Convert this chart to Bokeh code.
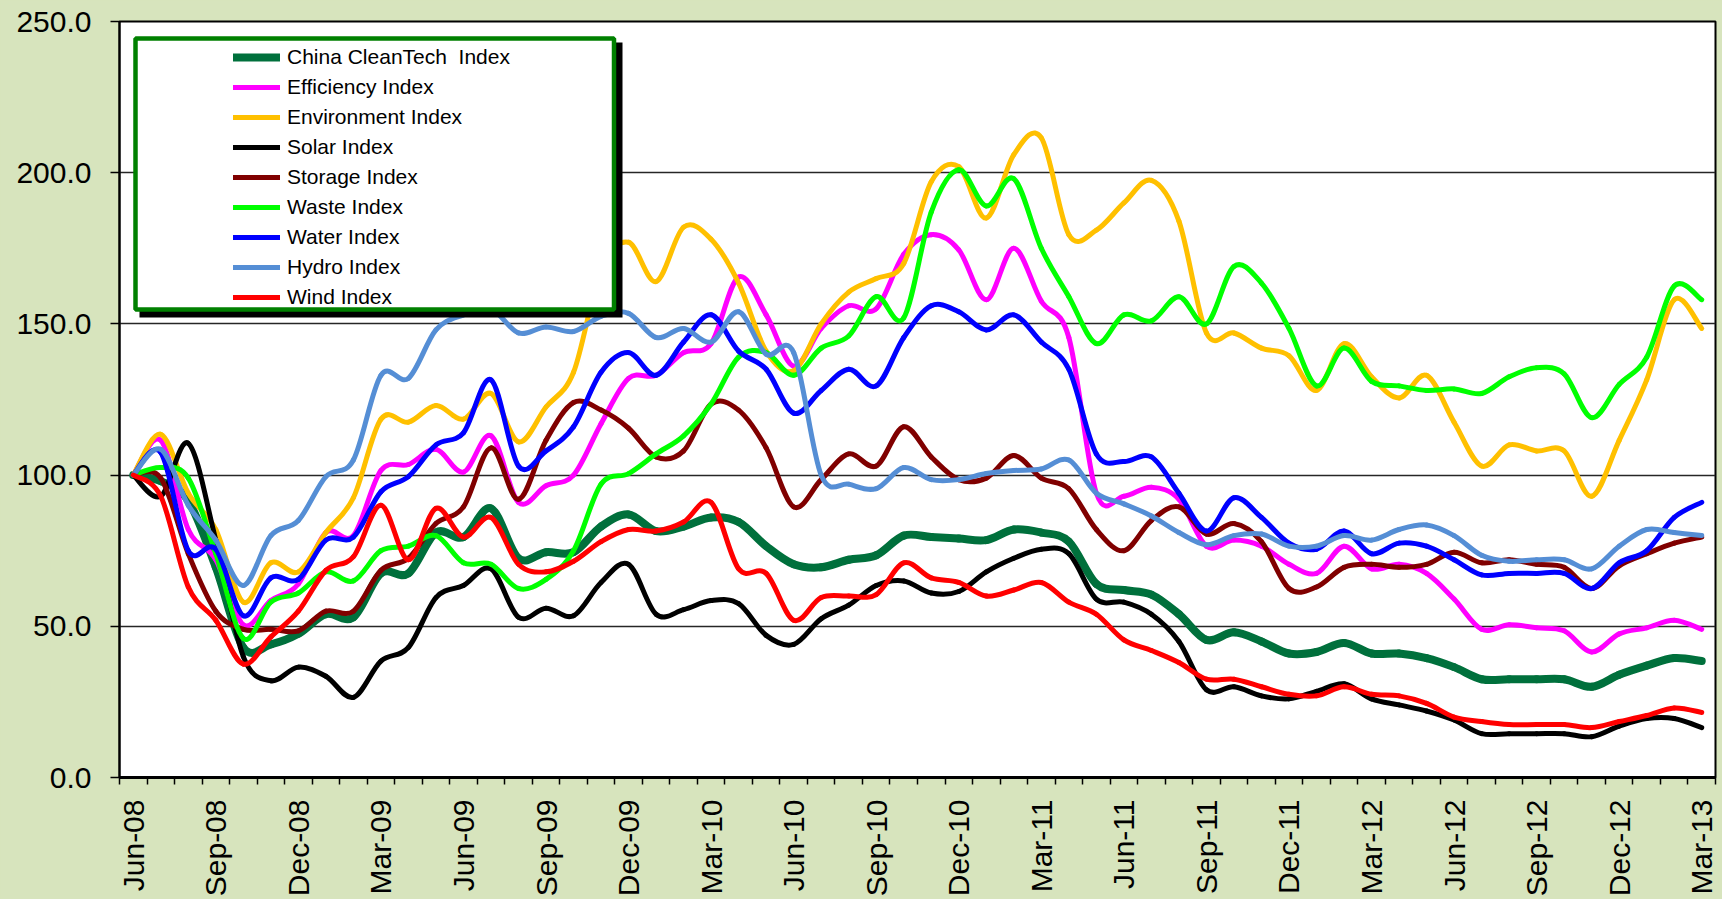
import math
import numpy as np
from bokeh.plotting import figure
from bokeh.models import (Range1d, FixedTicker, PrintfTickFormatter, CustomJSTickFormatter,
                          Legend, LegendItem, BoxAnnotation, ColumnDataSource)
from bokeh.embed import file_html
from bokeh.resources import INLINE

try:
    from bokeh.models import GlobalInlineStyleSheet
except Exception:
    GlobalInlineStyleSheet = None

# ---------------- data ----------------
months = ["Jun-08", "Jul-08", "Aug-08", "Sep-08", "Oct-08", "Nov-08", "Dec-08",
          "Jan-09", "Feb-09", "Mar-09", "Apr-09", "May-09", "Jun-09", "Jul-09", "Aug-09",
          "Sep-09", "Oct-09", "Nov-09", "Dec-09",
          "Jan-10", "Feb-10", "Mar-10", "Apr-10", "May-10", "Jun-10", "Jul-10", "Aug-10",
          "Sep-10", "Oct-10", "Nov-10", "Dec-10",
          "Jan-11", "Feb-11", "Mar-11", "Apr-11", "May-11", "Jun-11", "Jul-11", "Aug-11",
          "Sep-11", "Oct-11", "Nov-11", "Dec-11",
          "Jan-12", "Feb-12", "Mar-12", "Apr-12", "May-12", "Jun-12", "Jul-12", "Aug-12",
          "Sep-12", "Oct-12", "Nov-12", "Dec-12",
          "Jan-13", "Feb-13", "Mar-13"]

series_names = ["China CleanTech  Index", "Efficiency Index", "Environment Index",
                "Solar Index", "Storage Index", "Waste Index", "Water Index",
                "Hydro Index", "Wind Index"]

clean_tech = [100, 98, 91.5, 69.5, 43, 44, 47.5, 54, 53, 67.5, 67.5, 81, 79.5, 89, 72.5,
              74.5, 74.5, 83, 87, 81.5, 83, 86, 84.5, 76.5, 70.5, 69.5, 72, 73.5, 80, 79.5,
              79, 78.5, 82, 81, 78, 64, 62, 60.5, 54, 45.5, 48, 45, 41, 41.5, 44.5, 41, 41,
              39.5, 36.5, 32.5, 32.5, 32.5, 32.5, 30, 34, 37, 39.5, 38.5]
efficiency = [100, 111.5, 82, 72, 50.5, 58.5, 64, 81, 80, 101.5, 103.5, 108.5, 101, 113, 91,
              96.5, 100, 117, 132, 133, 140.5, 143.5, 165.5, 153, 136, 148.5, 156, 155, 173,
              179.5, 174.5, 158, 175, 157.5, 145.5, 94, 93, 96, 92, 76.5, 78.5, 76.5, 70.5,
              67.5, 76.5, 69, 70.5, 67.5, 59, 49, 50.5, 49.5, 48.5, 41.5, 47.5, 49.5, 52, 49]
environment = [100, 113.5, 94, 82, 58, 71, 68, 81, 92.5, 118.5, 117.5, 123, 118.5, 127, 111,
               122.5, 134, 168, 177, 164, 182, 178, 163.5, 141, 134.5, 150, 160.5, 165, 170,
               197, 202, 185, 206, 211.5, 179.5, 181, 190, 197.5, 184, 147, 147, 142, 139.5,
               128, 143.5, 132.5, 125.5, 133, 117.5, 103, 110, 108, 108, 93, 111.5, 131.5,
               158, 148.5]
solar = [100, 93, 110.5, 78.5, 40, 32, 36.5, 33.5, 26.5, 38.5, 43, 59.5, 63.5, 69, 53, 56,
         53.5, 64.5, 70.5, 54, 55.5, 58.5, 57.5, 47, 44, 52.5, 57, 63.5, 65, 61, 61.5, 68,
         72.5, 75.5, 74, 59, 58, 54, 45, 29, 30, 27, 26, 28.5, 31, 26, 24, 22, 19, 14.5,
         14.5, 14.5, 14.5, 13.5, 17, 19.5, 19.5, 16.5]
storage = [100, 99, 74, 55, 49, 49, 48.5, 55, 55, 68.5, 72.5, 84, 89.5, 109, 92, 111.5, 124,
           121.5, 115.5, 106, 108, 123.5, 121.5, 109, 89.5, 98.5, 107, 103, 116, 106, 98.5,
           99, 106.5, 99, 95.5, 82, 75, 85, 89.5, 80.5, 84, 78, 62.5, 63, 69.5, 70.5, 69.5,
           70.5, 74.5, 71, 72, 70.5, 69.5, 62.5, 70, 74, 77.5, 79.5]
waste = [100, 102.5, 99, 74, 46, 58, 61, 68, 65, 75, 76.5, 80, 71, 70.5, 62.5, 65.5, 75, 97,
         100.5, 107, 113, 123.5, 139, 140.5, 133, 142, 146, 159, 152, 187, 201, 189, 198,
         175, 159, 143.5, 153, 151, 159, 150, 169, 163.5, 148.5, 129.5, 142, 131, 129.5, 128,
         128.5, 127, 132.5, 135.5, 133.5, 119, 130, 139, 162.5, 158]
water = [100, 107.5, 75, 75.5, 53.5, 66, 65.5, 78.5, 79.5, 94.5, 99.5, 110, 114, 131.5, 103,
         108, 116, 134, 140.5, 133, 144, 153, 141, 135, 120.5, 128, 135, 129.5, 145.5, 156,
         154, 148, 153, 144, 135, 107, 104.5, 106, 94, 81.5, 92.5, 86, 77.5, 75.5, 81.5, 74,
         77.5, 76.5, 72, 67, 67.5, 67.5, 67.5, 62.5, 71, 75, 86, 91]
hydro = [100, 108.5, 90, 78.5, 63.5, 80, 85, 99.5, 105, 133, 132, 148, 153, 155, 147, 149,
         147.5, 152.5, 153.5, 145.5, 148.5, 144, 154, 140, 140.5, 100, 97, 95.5, 102.5, 98.5,
         98.5, 100.5, 101.5, 102, 105, 94, 90.5, 86.5, 81, 77, 80, 80.5, 76.5, 76.5, 80,
         78.5, 82, 83.5, 80, 73.5, 71.5, 72, 72, 69, 76.5, 82, 81, 80]
wind = [100, 93, 63, 52, 37.5, 46.5, 55, 68.5, 73, 90, 72, 89, 79.5, 86, 70.5, 68, 71.5, 78,
        82, 81.5, 84.5, 91, 69, 67.5, 52, 59.5, 60, 60.5, 71, 66, 64.5, 60, 62, 64.5, 58,
        54, 45.5, 42, 38, 32.5, 32.5, 30, 27.5, 27, 30, 27.5, 27, 24.5, 20, 18.5, 17.5,
        17.5, 17.5, 16.5, 18.5, 20.5, 23, 21.5]

y_ticks = [0, 50, 100, 150, 200, 250]

# ---------------- styles ----------------
all_series = [clean_tech, efficiency, environment, solar, storage, waste, water, hydro, wind]
colors = ["#00703C", "#FF00FF", "#FFC000", "#000000", "#800000", "#00FF00", "#0000FF",
          "#558ED5", "#FF0000"]
widths = [8, 5, 5, 5, 5, 5, 5, 5, 5]
BG = "#D7E4BD"
FONT = "Liberation Sans"

W, H = 1722, 899
ML, MR, MT, MB = 119, 7, 21, 122
FW, FH = W - ML - MR, H - MT - MB

p = figure(width=W, height=H, output_backend="svg", toolbar_location=None,
           x_range=Range1d(-0.5, len(months) - 0.5), y_range=Range1d(0, 250),
           min_border_left=ML, min_border_right=MR, min_border_top=MT, min_border_bottom=MB)
p.border_fill_color = BG
p.background_fill_color = "white"
p.outline_line_color = "black"
p.outline_line_width = 2

if GlobalInlineStyleSheet is not None:
    p.stylesheets = [GlobalInlineStyleSheet(css="html, body { background-color: %s; }" % BG)]

# grid
p.xgrid.visible = False
p.ygrid.grid_line_color = "#262626"
p.ygrid.grid_line_width = 1.5
p.ygrid.ticker = FixedTicker(ticks=y_ticks)

# y axis
ya = p.yaxis[0]
ya.ticker = FixedTicker(ticks=y_ticks, minor_ticks=[])
ya.formatter = PrintfTickFormatter(format="%.1f")
ya.major_label_text_font = FONT
ya.major_label_text_font_size = "30px"
ya.major_label_text_color = "black"
ya.major_tick_out = 9
ya.major_tick_in = 0
ya.major_tick_line_width = 1.5
ya.major_tick_line_color = "black"
ya.minor_tick_line_color = None
ya.axis_line_width = 2
ya.axis_line_color = "black"
ya.major_label_standoff = 19

# x axis
xa = p.xaxis[0]
xa.ticker = FixedTicker(ticks=list(range(0, len(months), 3)),
                        minor_ticks=[i - 0.5 for i in range(len(months) + 1)])
xa.formatter = CustomJSTickFormatter(args=dict(labels=months),
                                     code="const i = Math.round(tick); return (i >= 0 && i < labels.length) ? labels[i] : '';")
xa.major_label_orientation = math.pi / 2
xa.major_label_text_font = FONT
xa.major_label_text_font_size = "30px"
xa.major_label_text_color = "black"
xa.major_tick_out = 0
xa.major_tick_in = 0
xa.minor_tick_out = 7
xa.minor_tick_in = 0
xa.minor_tick_line_color = "black"
xa.minor_tick_line_width = 1.5
xa.axis_line_width = 3
xa.axis_line_color = "black"
xa.major_label_standoff = 15


def smooth(vals):
    y = np.asarray(vals, dtype=float)
    n = len(y)
    x = np.arange(n, dtype=float)
    xp = np.concatenate([[x[0]], x, [x[-1]]])
    yp = np.concatenate([[y[0]], y, [y[-1]]])
    return dict(
        x0=x[:-1], y0=y[:-1], x1=x[1:], y1=y[1:],
        cx0=x[:-1] + (xp[2:n + 1] - xp[0:n - 1]) / 6.0,
        cy0=y[:-1] + (yp[2:n + 1] - yp[0:n - 1]) / 6.0,
        cx1=x[1:] - (xp[3:n + 2] - xp[1:n]) / 6.0,
        cy1=y[1:] - (yp[3:n + 2] - yp[1:n]) / 6.0,
    )


items = []
for name, vals, c, w in zip(series_names, all_series, colors, widths):
    src = ColumnDataSource(smooth(vals))
    r = p.bezier(x0="x0", y0="y0", x1="x1", y1="y1", cx0="cx0", cy0="cy0",
                 cx1="cx1", cy1="cy1", source=src, line_color=c, line_width=w,
                 line_cap="round", line_join="round")
    items.append(LegendItem(label=name, renderers=[r]))


# legend frame (pixel offsets from the plot frame's top-left converted to data units)
def dx(px):
    return -0.5 + px * len(months) / FW


def dy(py):
    return 250 - py * 250 / FH


shadow = BoxAnnotation(left=dx(20), right=dx(503), top=dy(21), bottom=dy(296),
                       fill_color="black", fill_alpha=1.0, line_alpha=0)
frame_box = BoxAnnotation(left=dx(16), right=dx(494.5), top=dy(17), bottom=dy(288),
                          fill_color="white", fill_alpha=1.0,
                          line_color="#008000", line_alpha=1.0, line_width=4.5)
p.add_layout(shadow)
p.add_layout(frame_box)

legend = Legend(items=items, location=(114, 465), orientation="vertical",
                padding=0, spacing=0, margin=0,
                glyph_width=47, glyph_height=30, label_height=30, label_standoff=7,
                label_text_font=FONT, label_text_font_size="21px", label_text_color="black",
                background_fill_alpha=0, border_line_alpha=0)
p.add_layout(legend)

open("out.html", "w").write(file_html(p, INLINE))
